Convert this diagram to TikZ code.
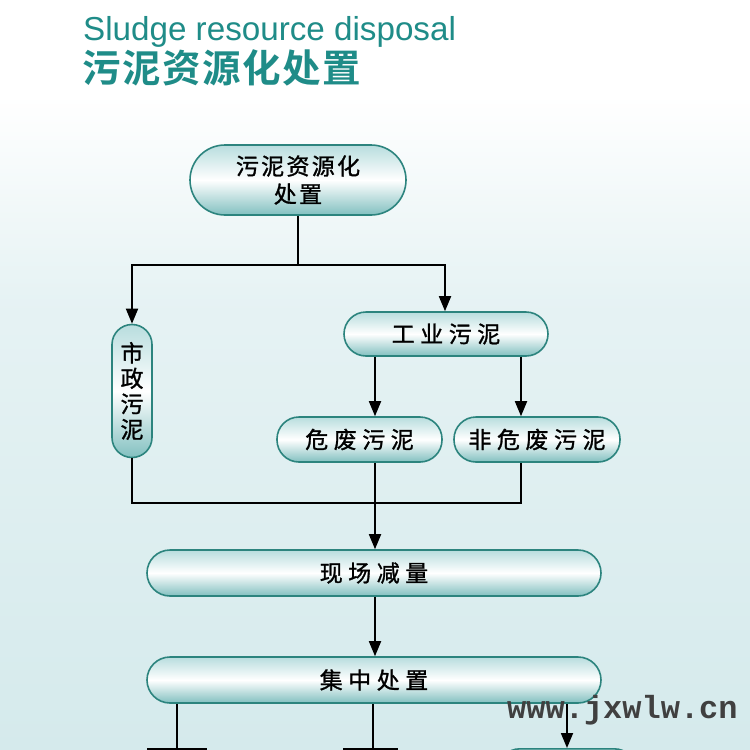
\documentclass[tikz,border=0pt]{standalone}
\usepackage{fontspec}
\setmainfont{Liberation Sans}
\newfontfamily\cjk[FakeBold=1.2]{Noto Sans CJK SC}
\newfontfamily\cjkb{Noto Sans CJK SC Bold}
\newfontfamily\wmfont{Liberation Mono}
\usetikzlibrary{arrows.meta,calc}
\definecolor{teal1}{RGB}{31,140,136}
\definecolor{boxedge}{RGB}{44,132,126}
\definecolor{boxtop}{RGB}{184,221,222}
\definecolor{boxbot}{RGB}{130,192,192}
\definecolor{bgbot}{RGB}{213,234,236}
\tikzset{
  capsule/.style={draw=boxedge, line width=1.6pt, top color=boxtop, bottom color=boxbot, middle color=white,
    inner sep=0pt, font=\cjk\fontsize{23}{27}\selectfont\addfontfeature{LetterSpace=24}, text=black, align=center},
  arr/.style={line width=1.8pt, -{Triangle[length=15pt,width=12pt]}},
  ln/.style={line width=1.8pt},
}
\begin{document}
\begin{tikzpicture}[x=1pt,y=-1pt]
\useasboundingbox (0,0) rectangle (750,750);
\clip (0,0) rectangle (750,750);
\fill[white] (0,0) rectangle (750,95);
\shade[top color=white, bottom color=white!40!bgbot] (0,95) rectangle (750,300);
\shade[top color=white!40!bgbot, bottom color=bgbot] (0,300) rectangle (750,750);

\node[anchor=base west, inner sep=0pt, text=teal1, font=\fontsize{33.2}{38}\selectfont] (t1) at (83,40) {Sludge resource disposal};
\node[anchor=base west, inner sep=0pt, text=teal1, font=\cjkb\fontsize{38.5}{42}\selectfont\addfontfeature{LetterSpace=4}] (t2) at (82,82) {污泥资源化处置};

\node[capsule, minimum width=216pt, minimum height=70pt, rounded corners=35pt, font=\cjk\fontsize{23}{28}\selectfont\addfontfeature{LetterSpace=10}] (top) at (298,180) {污泥资源化\\处置};
\node[capsule, minimum width=40pt, minimum height=133pt, rounded corners=20pt, font=\cjk\fontsize{23}{25.5}\selectfont] (sz) at (132,391) {市\\政\\污\\泥};
\node[capsule, minimum width=204pt, minimum height=44pt, rounded corners=22pt] (gy) at (446,334) {工业污泥};
\node[capsule, minimum width=165pt, minimum height=45pt, rounded corners=22pt] (hw) at (359.5,439.5) {危废污泥};
\node[capsule, minimum width=166pt, minimum height=45pt, rounded corners=22pt] (fhw) at (537,439.5) {非危废污泥};
\node[capsule, minimum width=454pt, minimum height=46pt, rounded corners=23pt] (xc) at (374,573) {现场减量};
\node[capsule, minimum width=454pt, minimum height=46pt, rounded corners=23pt] (jz) at (374,680) {集中处置};
\node[capsule, minimum width=140pt, minimum height=46pt, rounded corners=23pt, anchor=north] (br) at (567,748) {};

\coordinate (j1) at (298,265);
\coordinate (cr) at (445,0);
\coordinate (c375) at (375,0);
\coordinate (c521) at (521,0);
\coordinate (j2) at (375,503);

\draw[ln] (top.south) -- (j1);
\draw[arr] (j1) -| (sz.north);
\draw[arr] (j1) -| (cr |- gy.north);
\draw[arr] (gy.south -| c375) -- (c375 |- hw.north);
\draw[arr] (gy.south -| c521) -- (c521 |- fhw.north);
\draw[ln] (sz.south) |- (j2);
\draw[ln] (c521 |- fhw.south) |- (j2);
\draw[arr] (c375 |- hw.south) -- (c375 |- xc.north);
\draw[arr] (c375 |- xc.south) -- (c375 |- jz.north);
\coordinate (b1) at (177,748);
\coordinate (b2) at (373,748);
\draw[ln] (jz.south -| b1) -- (b1);
\draw[ln] (jz.south -| b2) -- (b2);
\draw[line width=2pt] (147,749) -- (207,749);
\draw[line width=2pt] (343,749) -- (398,749);
\draw[arr] (jz.south -| br.north) -- (br.north);

\node[anchor=base west, inner sep=0pt, text=black!75, font=\wmfont\bfseries\fontsize{32}{34}\selectfont] (wm) at (507,718) {www.jxwlw.cn};
\end{tikzpicture}
\end{document}
